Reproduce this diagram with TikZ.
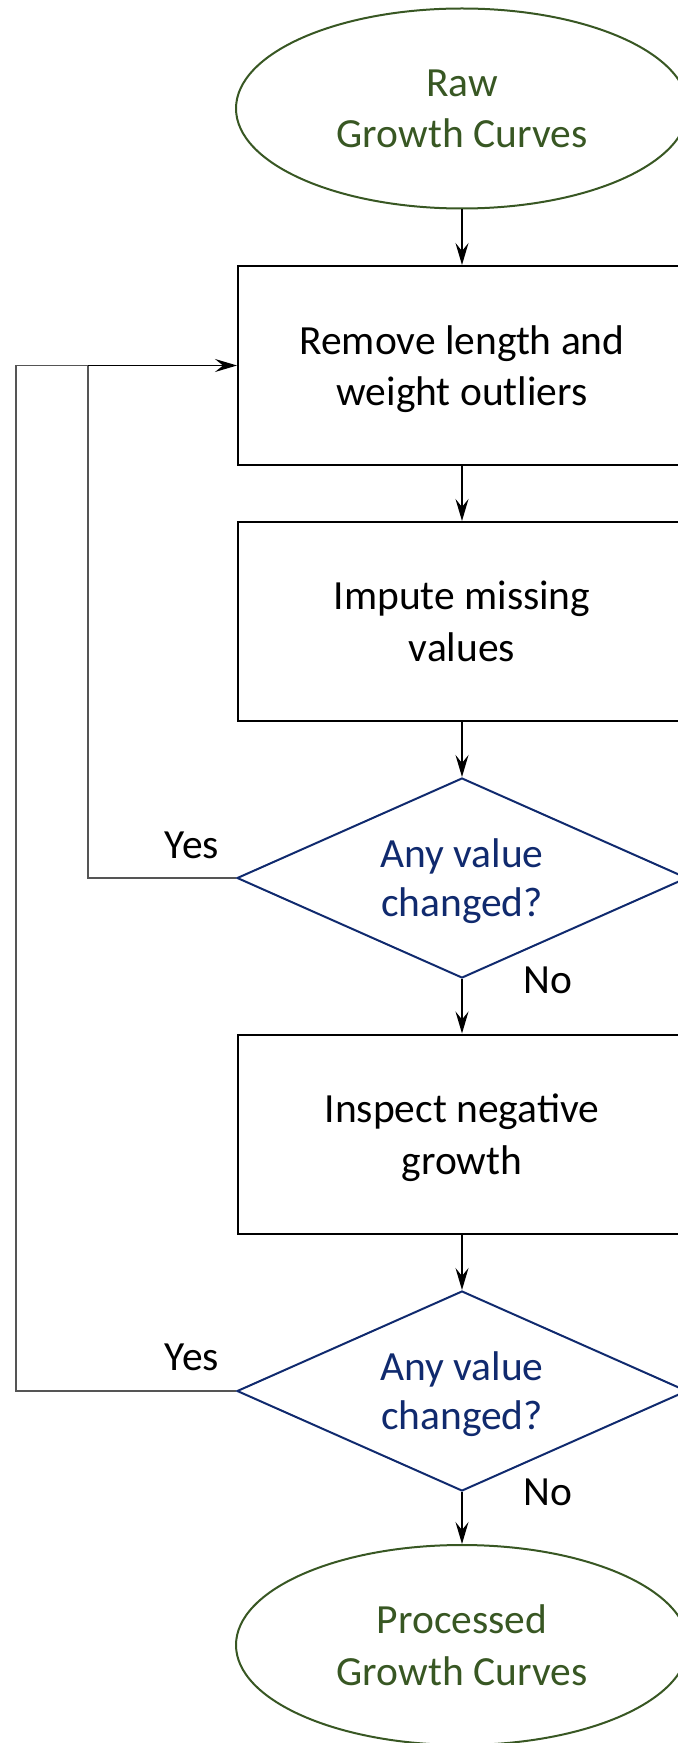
\documentclass[tikz,border=0pt]{standalone}
\usepackage{fontspec}
\setmainfont{Carlito}
\usetikzlibrary{shapes.geometric,arrows.meta}
\definecolor{grn}{RGB}{56,87,35}
\definecolor{nvy}{RGB}{16,42,110}
\definecolor{loopgray}{RGB}{85,85,85}
\begin{document}
\begin{tikzpicture}[x=0.5pt,y=-0.5pt,
  txt/.style={font=\fontsize{20.75}{25.8}\selectfont,align=center,text depth=0pt},
  term/.style={txt,ellipse,draw=grn,text=grn,line width=1pt,minimum width=226pt,minimum height=100pt,inner sep=0pt},
  proc/.style={txt,rectangle,draw=black,line width=1pt,minimum width=224pt,minimum height=99.5pt,inner sep=0pt},
  dec/.style={txt,font=\fontsize{20.75}{24.5}\selectfont,diamond,draw=nvy,text=nvy,line width=1pt,aspect=2.25,minimum width=225pt,minimum height=100pt,inner sep=0pt},
  conn/.style={-{Stealth[length=11pt,width=6.5pt,inset=4pt]},line width=0.8pt,black},
  loopline/.style={line width=0.55pt,loopgray},
  lab/.style={font=\fontsize{20.75}{24}\selectfont,inner sep=0pt}]
\clip (0,0) rectangle (678,1743);
\useasboundingbox (0,0) rectangle (678,1743);
\node[term] (e1) at (462,108.5) {Raw\\Growth Curves};
\node[proc] (r1) at (462,365.5) {Remove length and\\weight outliers};
\node[proc] (r2) at (462,621.5) {Impute missing\\values};
\node[dec] (d1) at (462,878) {Any value\\changed?};
\node[proc] (r3) at (462,1134) {Inspect negative\\growth};
\node[dec] (d2) at (462,1391) {Any value\\changed?};
\node[term] (e2) at (462,1645) {Processed\\Growth Curves};
\coordinate (j1) at (88,365.5);
\coordinate (j2) at (16,365.5);
\draw[conn] (e1) -- (r1);
\draw[conn] (r1) -- (r2);
\draw[conn] (r2) -- (d1);
\draw[conn] (d1) -- (r3);
\draw[conn] (r3) -- (d2);
\draw[conn] (d2) -- (e2);
\draw[loopline] (d1.west) -| (j1);
\draw[loopline] (d2.west) -| (j2) -- (j1);
\draw[conn] (j1) -- (r1.west);
\node[lab] (y1) at (192,845) {Yes};
\node[lab] (y2) at (192,1357.5) {Yes};
\node[lab] (n1) at (548,980) {No};
\node[lab] (n2) at (548,1492) {No};
\end{tikzpicture}
\end{document}
